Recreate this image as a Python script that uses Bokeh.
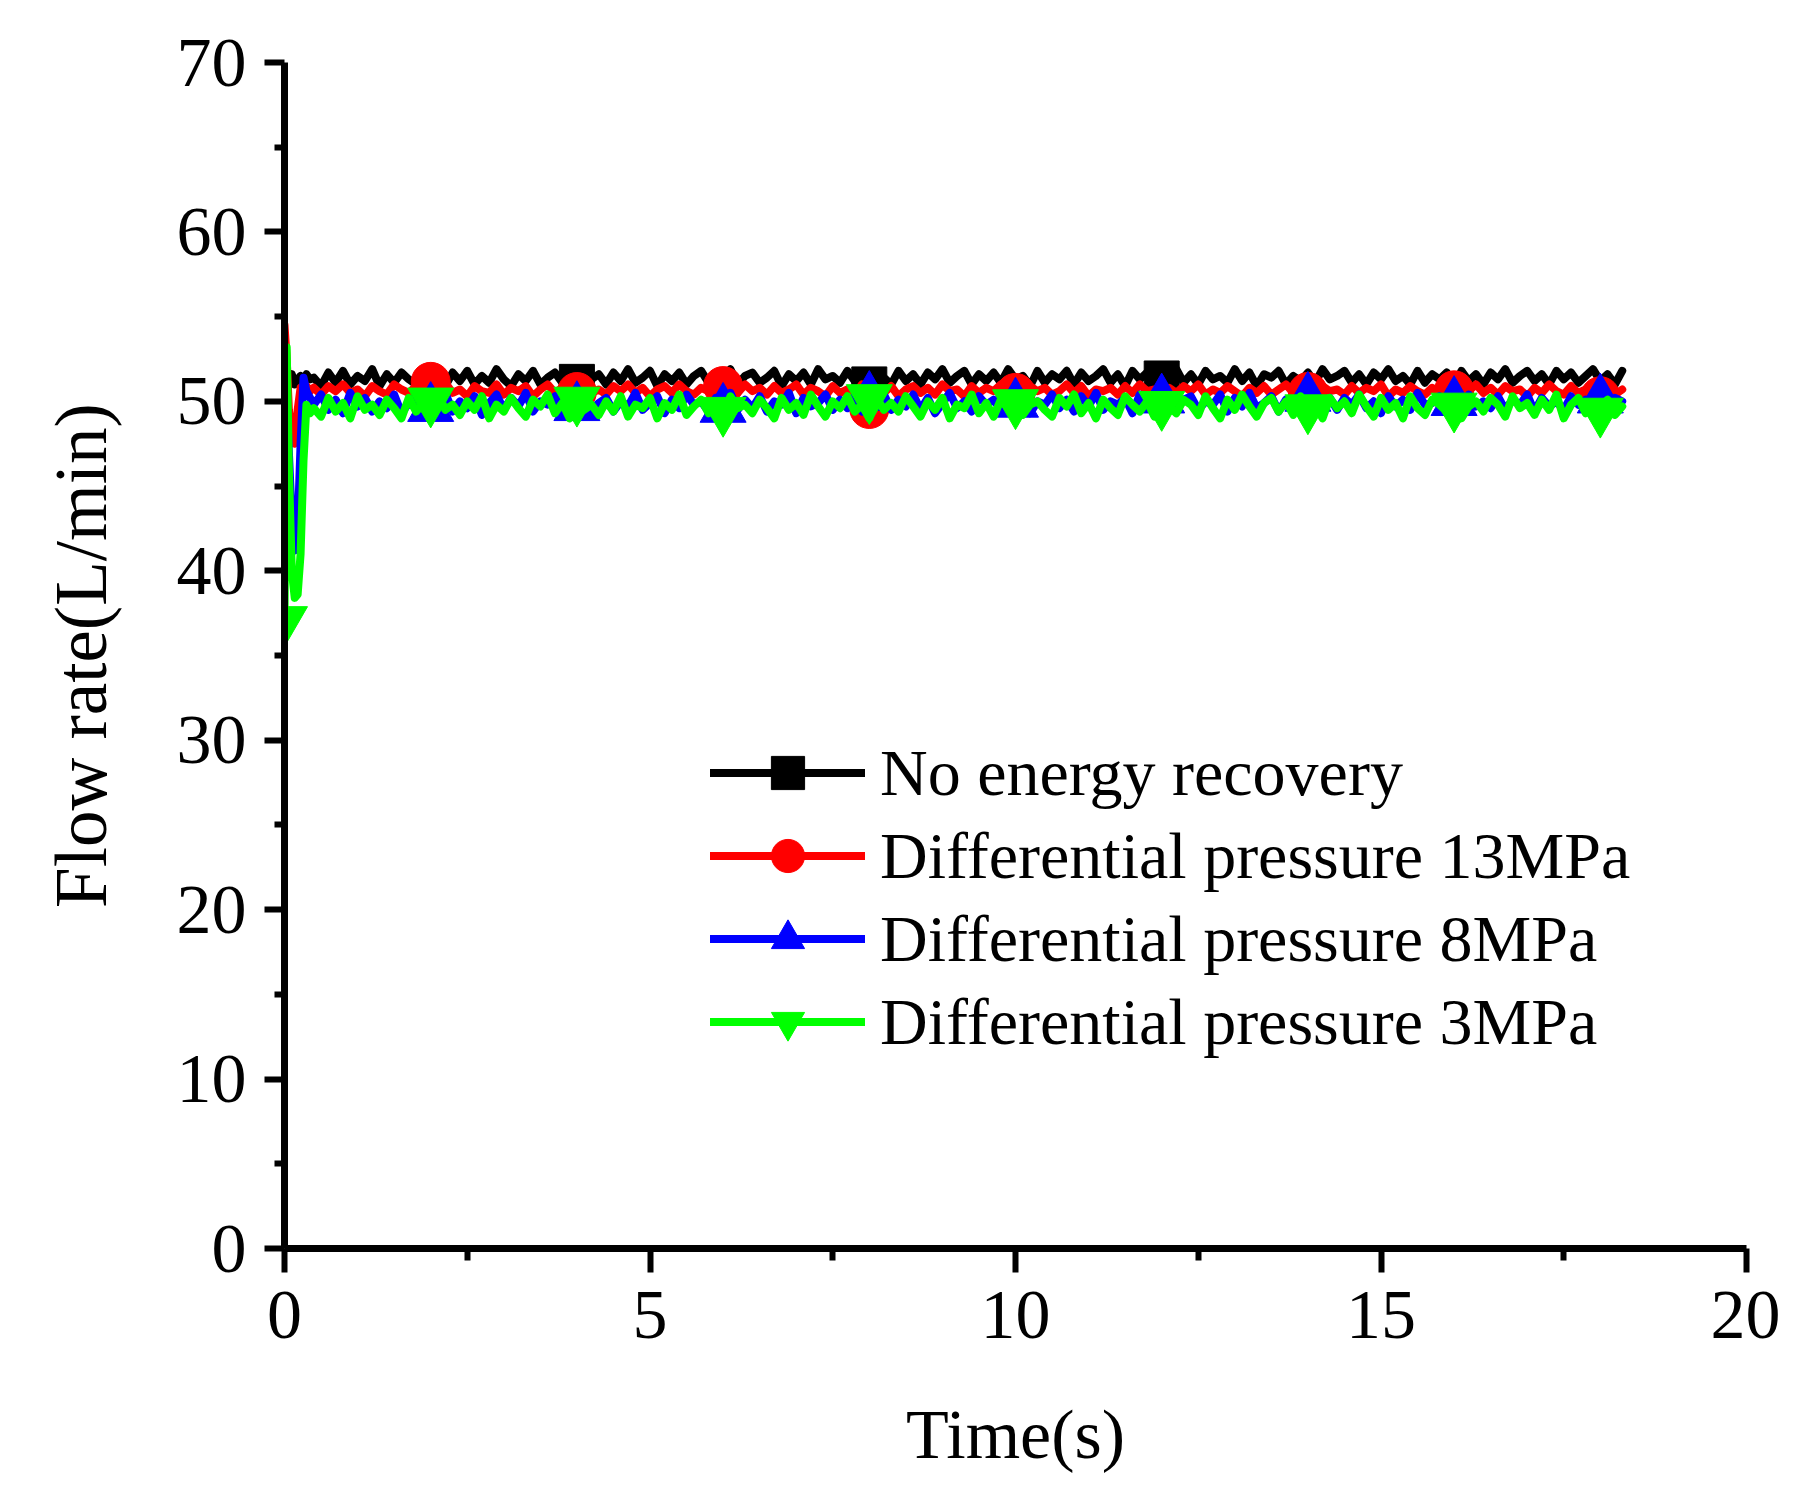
import numpy as np
from bokeh.plotting import figure
from bokeh.models import Range1d, FixedTicker, Legend, LegendItem
from bokeh.embed import file_html
from bokeh.resources import INLINE

# ---------------- data ----------------
# start-up transient (time in s, flow in L/min)
t_trans = [0.0, 0.03, 0.06, 0.10, 0.14, 0.18, 0.22, 0.26, 0.30, 0.35]
black_trans = [50.0, 50.5, 51.2, 51.6, 51.0, 51.3, 51.5, 51.2, 51.6, 51.3]
red_trans = [54.5, 52.5, 49.5, 48.0, 47.5, 49.5, 50.8, 50.5, 50.9, 50.6]
blue_trans = [50.5, 50.0, 47.0, 43.0, 41.2, 42.5, 47.5, 51.4, 50.6, 50.2]
green_trans = [37.1, 53.2, 46.0, 40.0, 38.4, 38.6, 41.0, 46.5, 49.8, 49.3]

# steady part, sampled every 0.1 s from 0.4 s to 18.3 s
t_start, t_step, n_steady = 0.4, 0.1, 180

black_steady = [
    51.4, 50.9, 51.7, 51.1, 51.8, 51.0, 51.5, 51.2, 51.9, 50.9, 51.6, 51.1, 51.7, 51.3, 51.0, 51.8, 51.2, 51.6, 50.9, 51.7,
    51.2, 51.8, 51.0, 51.5, 51.1, 51.9, 51.3, 50.9, 51.6, 51.2, 51.8, 51.0, 51.4, 51.7, 51.1, 51.5, 50.9, 51.8, 51.3, 51.6,
    51.0, 51.7, 51.2, 51.9, 51.1, 51.4, 51.8, 50.9, 51.6, 51.2, 51.7, 51.0, 51.5, 51.8, 51.1, 51.6, 51.3, 51.9, 51.0, 51.5,
    51.7, 51.1, 51.4, 51.8, 50.9, 51.6, 51.2, 51.7, 51.0, 51.9, 51.3, 51.5, 51.1, 51.8, 51.2, 51.6, 50.9, 51.7, 51.4, 51.0,
    51.8, 51.2, 51.6, 51.0, 51.7, 51.3, 51.9, 51.1, 51.5, 51.8, 51.0, 51.6, 51.2, 51.7, 51.1, 51.9, 51.3, 51.5, 50.9, 51.8,
    51.1, 51.6, 51.3, 51.8, 51.0, 51.7, 51.2, 51.5, 51.9, 51.1, 51.6, 50.9, 51.8, 51.3, 51.7, 51.0, 51.5, 51.2, 51.9, 51.1,
    51.6, 51.0, 51.8, 51.3, 51.5, 51.1, 51.9, 51.2, 51.7, 50.9, 51.6, 51.4, 51.8, 51.0, 51.5, 51.2, 51.7, 51.1, 51.9, 51.3,
    51.5, 51.8, 51.1, 51.6, 51.0, 51.7, 51.3, 51.9, 51.2, 51.5, 51.0, 51.8, 51.1, 51.6, 51.3, 51.7, 50.9, 51.8, 51.2, 51.6,
    51.0, 51.7, 51.3, 51.9, 51.1, 51.5, 51.8, 51.2, 51.6, 51.0, 51.8, 51.3, 51.7, 51.1, 51.5, 51.9, 51.2, 51.6, 51.0, 51.8,
]
red_steady = [
    50.8, 50.4, 50.9, 50.6, 51.0, 50.5, 50.7, 50.3, 50.9, 50.6, 50.4, 51.0, 50.7, 50.5, 50.9, 50.4, 50.8, 50.6, 51.1, 50.5,
    50.7, 50.3, 50.9, 50.6, 50.5, 51.0, 50.4, 50.8, 50.6, 50.9, 50.3, 50.7, 51.0, 50.5, 50.8, 50.4, 50.6, 50.9, 50.5, 50.7,
    50.4, 50.9, 50.6, 51.0, 50.5, 50.8, 50.3, 50.7, 50.9, 50.5, 51.0, 50.6, 50.4, 50.8, 50.6, 50.9, 50.3, 50.7, 50.5, 51.0,
    50.6, 50.8, 50.4, 50.9, 50.5, 50.7, 51.0, 50.4, 50.8, 50.6, 50.3, 50.9, 50.5, 50.7, 50.4, 51.0, 50.6, 50.8, 50.5, 50.9,
    50.3, 50.7, 50.9, 50.5, 50.8, 50.4, 51.0, 50.6, 50.7, 50.3, 50.9, 50.5, 50.8, 50.6, 51.0, 50.4, 50.7, 50.5, 50.9, 50.6,
    50.8, 50.4, 50.6, 51.0, 50.5, 50.9, 50.3, 50.7, 50.6, 50.8, 50.4, 50.9, 50.5, 51.0, 50.6, 50.7, 50.3, 50.8, 50.5, 50.9,
    50.6, 51.0, 50.4, 50.7, 50.5, 50.9, 50.6, 50.3, 50.8, 50.5, 50.9, 50.4, 50.7, 51.0, 50.5, 50.8, 50.6, 50.4, 50.9, 50.6,
    50.7, 50.4, 50.9, 50.5, 50.8, 50.6, 51.0, 50.3, 50.7, 50.5, 50.9, 50.6, 50.4, 50.8, 50.5, 50.9, 50.3, 50.7, 50.6, 51.0,
    50.5, 50.8, 50.4, 50.9, 50.6, 50.7, 50.3, 50.8, 50.5, 51.0, 50.6, 50.4, 50.9, 50.5, 50.7, 50.3, 50.8, 50.6, 50.4, 50.7,
]
blue_steady = [
    49.8, 50.4, 49.5, 50.1, 49.3, 50.5, 49.7, 50.2, 49.4, 50.0, 49.6, 50.4, 49.3, 49.9, 50.3, 49.5, 50.1, 49.7, 50.5, 49.4,
    50.0, 49.6, 50.3, 49.2, 49.9, 50.4, 49.5, 50.2, 49.7, 50.5, 49.4, 50.0, 49.8, 50.3, 49.3, 50.1, 49.6, 50.4, 49.5, 49.9,
    50.2, 49.4, 50.0, 49.7, 50.5, 49.5, 49.9, 50.3, 49.3, 50.1, 49.6, 50.4, 49.8, 50.0, 49.4, 50.2, 49.7, 50.5, 49.5, 50.1,
    49.6, 50.3, 49.4, 50.0, 49.8, 50.5, 49.3, 50.2, 49.7, 49.9, 50.4, 49.5, 50.1, 49.6, 50.3, 49.4, 50.0, 49.8, 50.4, 49.5,
    50.1, 49.7, 50.4, 49.5, 50.2, 49.3, 49.9, 50.5, 49.6, 50.0, 49.4, 50.3, 49.8, 50.1, 49.5, 50.4, 49.7, 50.2, 49.3, 50.0,
    49.8, 50.4, 49.6, 50.1, 49.4, 50.3, 49.7, 50.5, 49.5, 50.0, 49.8, 50.2, 49.3, 50.4, 49.6, 50.0, 49.7, 50.3, 49.5, 50.1,
    50.3, 49.5, 50.0, 49.8, 50.4, 49.4, 50.2, 49.7, 50.5, 49.6, 49.9, 50.3, 49.4, 50.1, 49.8, 50.4, 49.5, 50.0, 49.7, 50.2,
    49.5, 50.2, 49.8, 50.4, 49.6, 50.0, 49.3, 50.3, 49.7, 50.1, 49.5, 50.5, 49.8, 49.9, 50.3, 49.4, 50.2, 49.6, 50.4, 49.7,
    50.0, 49.6, 50.3, 49.5, 50.1, 49.8, 50.4, 49.4, 50.2, 49.7, 50.0, 49.5, 50.3, 49.8, 50.1, 49.6, 50.4, 49.5, 50.2, 50.0,
]
green_steady = [
    49.6, 49.1, 50.2, 49.4, 49.9, 49.0, 50.3, 49.5, 49.8, 49.2, 50.1, 49.6, 49.0, 50.2, 49.4, 49.9, 49.1, 50.4, 49.5, 49.8,
    49.2, 50.0, 49.5, 50.3, 49.0, 49.8, 49.4, 50.2, 49.6, 49.1, 50.1, 49.7, 50.4, 49.3, 49.9, 49.0, 50.2, 49.5, 49.8, 49.2,
    50.0, 49.4, 50.3, 49.1, 49.8, 49.6, 50.2, 49.0, 49.9, 49.5, 50.4, 49.2, 49.7, 50.1, 49.3, 49.9, 49.0, 50.3, 49.6, 49.8,
    49.3, 50.1, 49.6, 49.0, 50.2, 49.5, 49.9, 49.2, 50.4, 49.7, 49.1, 50.0, 49.6, 50.3, 49.4, 49.8, 49.0, 50.2, 49.5, 49.9,
    49.4, 50.3, 49.7, 49.1, 50.0, 49.5, 50.2, 49.0, 49.8, 49.6, 50.4, 49.3, 49.9, 49.1, 50.1, 49.6, 50.3, 49.2, 49.8, 50.0,
    49.5, 49.1, 50.2, 49.7, 50.4, 49.3, 49.9, 49.0, 50.1, 49.6, 49.2, 50.3, 49.8, 49.4, 50.0, 49.1, 50.2, 49.7, 49.3, 50.1,
    49.8, 49.2, 50.3, 49.6, 49.0, 50.1, 49.5, 50.4, 49.7, 49.1, 49.9, 50.2, 49.4, 50.0, 49.2, 50.3, 49.6, 49.9, 49.0, 50.2,
    49.6, 50.0, 49.3, 50.4, 49.7, 49.1, 50.2, 49.5, 49.9, 49.0, 50.3, 49.6, 49.2, 50.1, 49.8, 49.4, 50.2, 49.0, 49.7, 50.0,
    49.4, 50.2, 49.8, 49.1, 50.3, 49.6, 49.9, 49.2, 50.1, 49.5, 50.4, 49.0, 49.8, 50.2, 49.3, 49.9, 49.6, 50.1, 49.2, 49.7,
]

# symbol positions (time, value)
black_mk_t = [4, 8, 12]
black_mk_v = [51.15, 51.0, 51.35]
red_mk_t = [2, 4, 6, 8, 10, 14, 16, 18]
red_mk_v = [51.15, 50.55, 50.9, 49.55, 50.5, 50.55, 50.65, 50.3]
blue_mk_t = [2, 4, 6, 8, 10, 12, 14, 16, 18]
blue_mk_v = [49.6, 49.65, 49.55, 50.25, 49.85, 50.1, 50.2, 49.95, 50.1]
green_mk_t = [0, 2, 4, 6, 8, 10, 12, 14, 16, 18]
green_mk_v = [37.1, 50.0, 50.05, 49.45, 50.2, 49.9, 49.8, 49.6, 49.7, 49.4]

labels = ["No energy recovery", "Differential pressure 13MPa",
          "Differential pressure 8MPa", "Differential pressure 3MPa"]
colors = ["#000000", "#ff0000", "#0000ff", "#00ff00"]
markers = ["square", "circle", "triangle", "inverted_triangle"]
marker_sizes = [35, 39, 46, 46]

x_ticks = [0, 5, 10, 15, 20]
x_minor = [2.5, 7.5, 12.5, 17.5]
y_ticks = [0, 10, 20, 30, 40, 50, 60, 70]
y_minor = [5, 15, 25, 35, 45, 55, 65]

# ---------------- figure ----------------
FONT = "Liberation Serif"

p = figure(output_backend="svg", toolbar_location=None,
           frame_width=1462, frame_height=1186,
           min_border_left=284, min_border_top=62,
           min_border_right=34, min_border_bottom=234,
           x_range=Range1d(0, 20), y_range=Range1d(0, 70))
p.background_fill_color = "white"
p.border_fill_color = "white"
p.outline_line_color = None
p.grid.visible = False

steady_t = list(np.round(t_start + t_step * np.arange(n_steady), 2))
series = [
    (black_trans + black_steady, black_mk_t, black_mk_v),
    (red_trans + red_steady, red_mk_t, red_mk_v),
    (blue_trans + blue_steady, blue_mk_t, blue_mk_v),
    (green_trans + green_steady, green_mk_t, green_mk_v),
]
all_t = t_trans + steady_t

items = []
for (vals, mt, mv), lab, col, mk, ms in zip(series, labels, colors, markers, marker_sizes):
    lr = p.line(all_t, vals, line_color=col, line_width=8, line_join="round", line_cap="round")
    sr = p.scatter(mt, mv, marker=mk, size=ms, fill_color=col, line_color=col, line_width=1)
    items.append(LegendItem(label=lab, renderers=[lr, sr]))

legend = Legend(items=items, location=(426, 185), orientation="vertical",
                glyph_width=155, glyph_height=83, spacing=0,
                label_standoff=15, padding=0, margin=0,
                label_text_font=FONT, label_text_font_size="66px",
                label_text_color="black", label_text_baseline="middle",
                border_line_color=None, background_fill_alpha=0)
p.add_layout(legend, "center")

for ax in (p.xaxis[0], p.yaxis[0]):
    ax.axis_line_width = 7
    ax.axis_line_color = "black"
    ax.major_tick_line_width = 6
    ax.minor_tick_line_width = 6
    ax.major_tick_in = 0
    ax.minor_tick_in = 0
    ax.major_label_text_font = FONT
    ax.major_label_text_font_size = "70px"
    ax.major_label_text_color = "black"
    ax.axis_label_text_font = FONT
    ax.axis_label_text_font_style = "normal"
    ax.axis_label_text_color = "black"

p.xaxis[0].ticker = FixedTicker(ticks=x_ticks, minor_ticks=x_minor)
p.yaxis[0].ticker = FixedTicker(ticks=y_ticks, minor_ticks=y_minor)
p.xaxis[0].major_tick_out = 24
p.xaxis[0].minor_tick_out = 12
p.yaxis[0].major_tick_out = 20
p.yaxis[0].minor_tick_out = 10
p.xaxis[0].major_label_standoff = 19
p.yaxis[0].major_label_standoff = 18
p.xaxis[0].axis_label = "Time(s)"
p.yaxis[0].axis_label = "Flow rate(L/min)"
p.xaxis[0].axis_label_text_font_size = "70px"
p.yaxis[0].axis_label_text_font_size = "73px"
p.xaxis[0].axis_label_standoff = 55
p.yaxis[0].axis_label_standoff = 52

open("out.html", "w").write(file_html(p, INLINE))
